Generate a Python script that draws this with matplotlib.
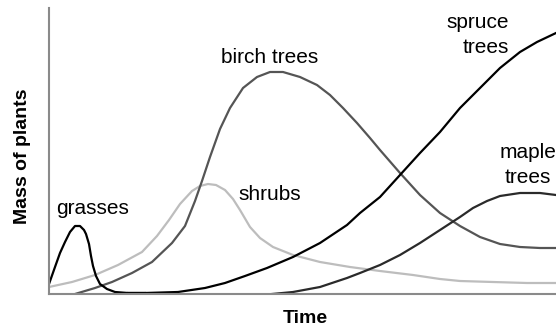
import matplotlib
matplotlib.use("Agg")
import matplotlib.pyplot as plt

# values (time / mass in arbitrary units)
grasses_t = [0, 6, 11, 16, 21, 26, 31, 35, 37, 40, 42, 44, 47, 51, 58, 66, 79, 96]
grasses_m = [10, 27, 41, 52, 62, 68, 68, 64, 60, 50, 38, 28, 18, 10, 5, 2, 1, 1]

spruce_t = [79, 96, 129, 156, 176, 196, 218, 244, 271, 298, 311, 331, 351, 371, 391,
            411, 431, 451, 471, 488, 507]
spruce_m = [1, 1, 2, 6, 11, 18, 26, 37, 51, 69, 81, 97, 119, 141, 162,
            186, 206, 226, 242, 252, 261]

birch_t = [26, 46, 63, 83, 103, 123, 136, 146, 153, 161, 171, 181, 194, 208, 221, 234,
           251, 268, 281, 294, 308, 321, 331, 351, 371, 391, 411, 431, 451, 471, 491, 507]
birch_m = [0, 6, 12, 21, 32, 51, 68, 93, 113, 137, 165, 186, 206, 217, 222, 222,
           217, 209, 199, 186, 171, 156, 144, 121, 99, 81, 68, 57, 50, 47, 46, 46]

shrubs_t = [0, 23, 46, 69, 93, 108, 120, 131, 143, 151, 159, 167, 176, 184, 191, 201,
            211, 224, 244, 271, 301, 331, 364, 391, 411, 444, 478, 507]
shrubs_m = [7, 12, 19, 29, 42, 58, 74, 90, 103, 108, 110, 109, 104, 95, 84, 67,
            56, 47, 39, 32, 27, 23, 19, 15, 13, 12, 11, 11]

maple_t = [223, 244, 271, 298, 311, 331, 351, 371, 391, 411, 424, 438, 451, 471, 491, 507]
maple_m = [0, 2, 7, 16, 21, 29, 39, 51, 64, 77, 86, 93, 98, 101, 101, 99]

plt.rcParams['font.family'] = ['Liberation Sans', 'DejaVu Sans']

fig = plt.figure(figsize=(5.56, 3.28), dpi=100)
ax = fig.add_axes([49/556, 34/328, 507/556, 286/328])

lw = 1.6
ax.plot(shrubs_t, shrubs_m, color="#bdbdbd", lw=lw, solid_joinstyle='round')
ax.plot(birch_t, birch_m, color="#555555", lw=lw, solid_joinstyle='round')
ax.plot(maple_t, maple_m, color="#2a2a2a", lw=lw, solid_joinstyle='round')
ax.plot(spruce_t, spruce_m, color="#000000", lw=lw, solid_joinstyle='round')
ax.plot(grasses_t, grasses_m, color="#000000", lw=lw, solid_joinstyle='round')

ax.set_xlim(0, 507)
ax.set_ylim(0, 286)
ax.set_xticks([])
ax.set_yticks([])
for s in ["top", "right"]:
    ax.spines[s].set_visible(False)
for s in ["left", "bottom"]:
    ax.spines[s].set_color("#8a8a8a")
    ax.spines[s].set_linewidth(1.5)

fs = 15
ax.text(44, 80, "grasses", fontsize=fs, ha="center", va="baseline")
ax.text(221, 231, "birch trees", fontsize=fs, ha="center", va="baseline")
ax.text(221, 94, "shrubs", fontsize=fs, ha="center", va="baseline")
ax.text(460, 266, "spruce", fontsize=fs, ha="right", va="baseline")
ax.text(460, 241, "trees", fontsize=fs, ha="right", va="baseline")
ax.text(479, 136, "maple", fontsize=fs, ha="center", va="baseline", clip_on=False)
ax.text(479, 111, "trees", fontsize=fs, ha="center", va="baseline")

fig.text(23/556, 1-156.5/328, "Mass of plants", fontsize=14, fontweight="bold",
         rotation=90, ha="center", va="center")
fig.text(305/556, 1-323/328, "Time", fontsize=14, fontweight="bold",
         ha="center", va="baseline")

fig.savefig("out.png", dpi=100)
